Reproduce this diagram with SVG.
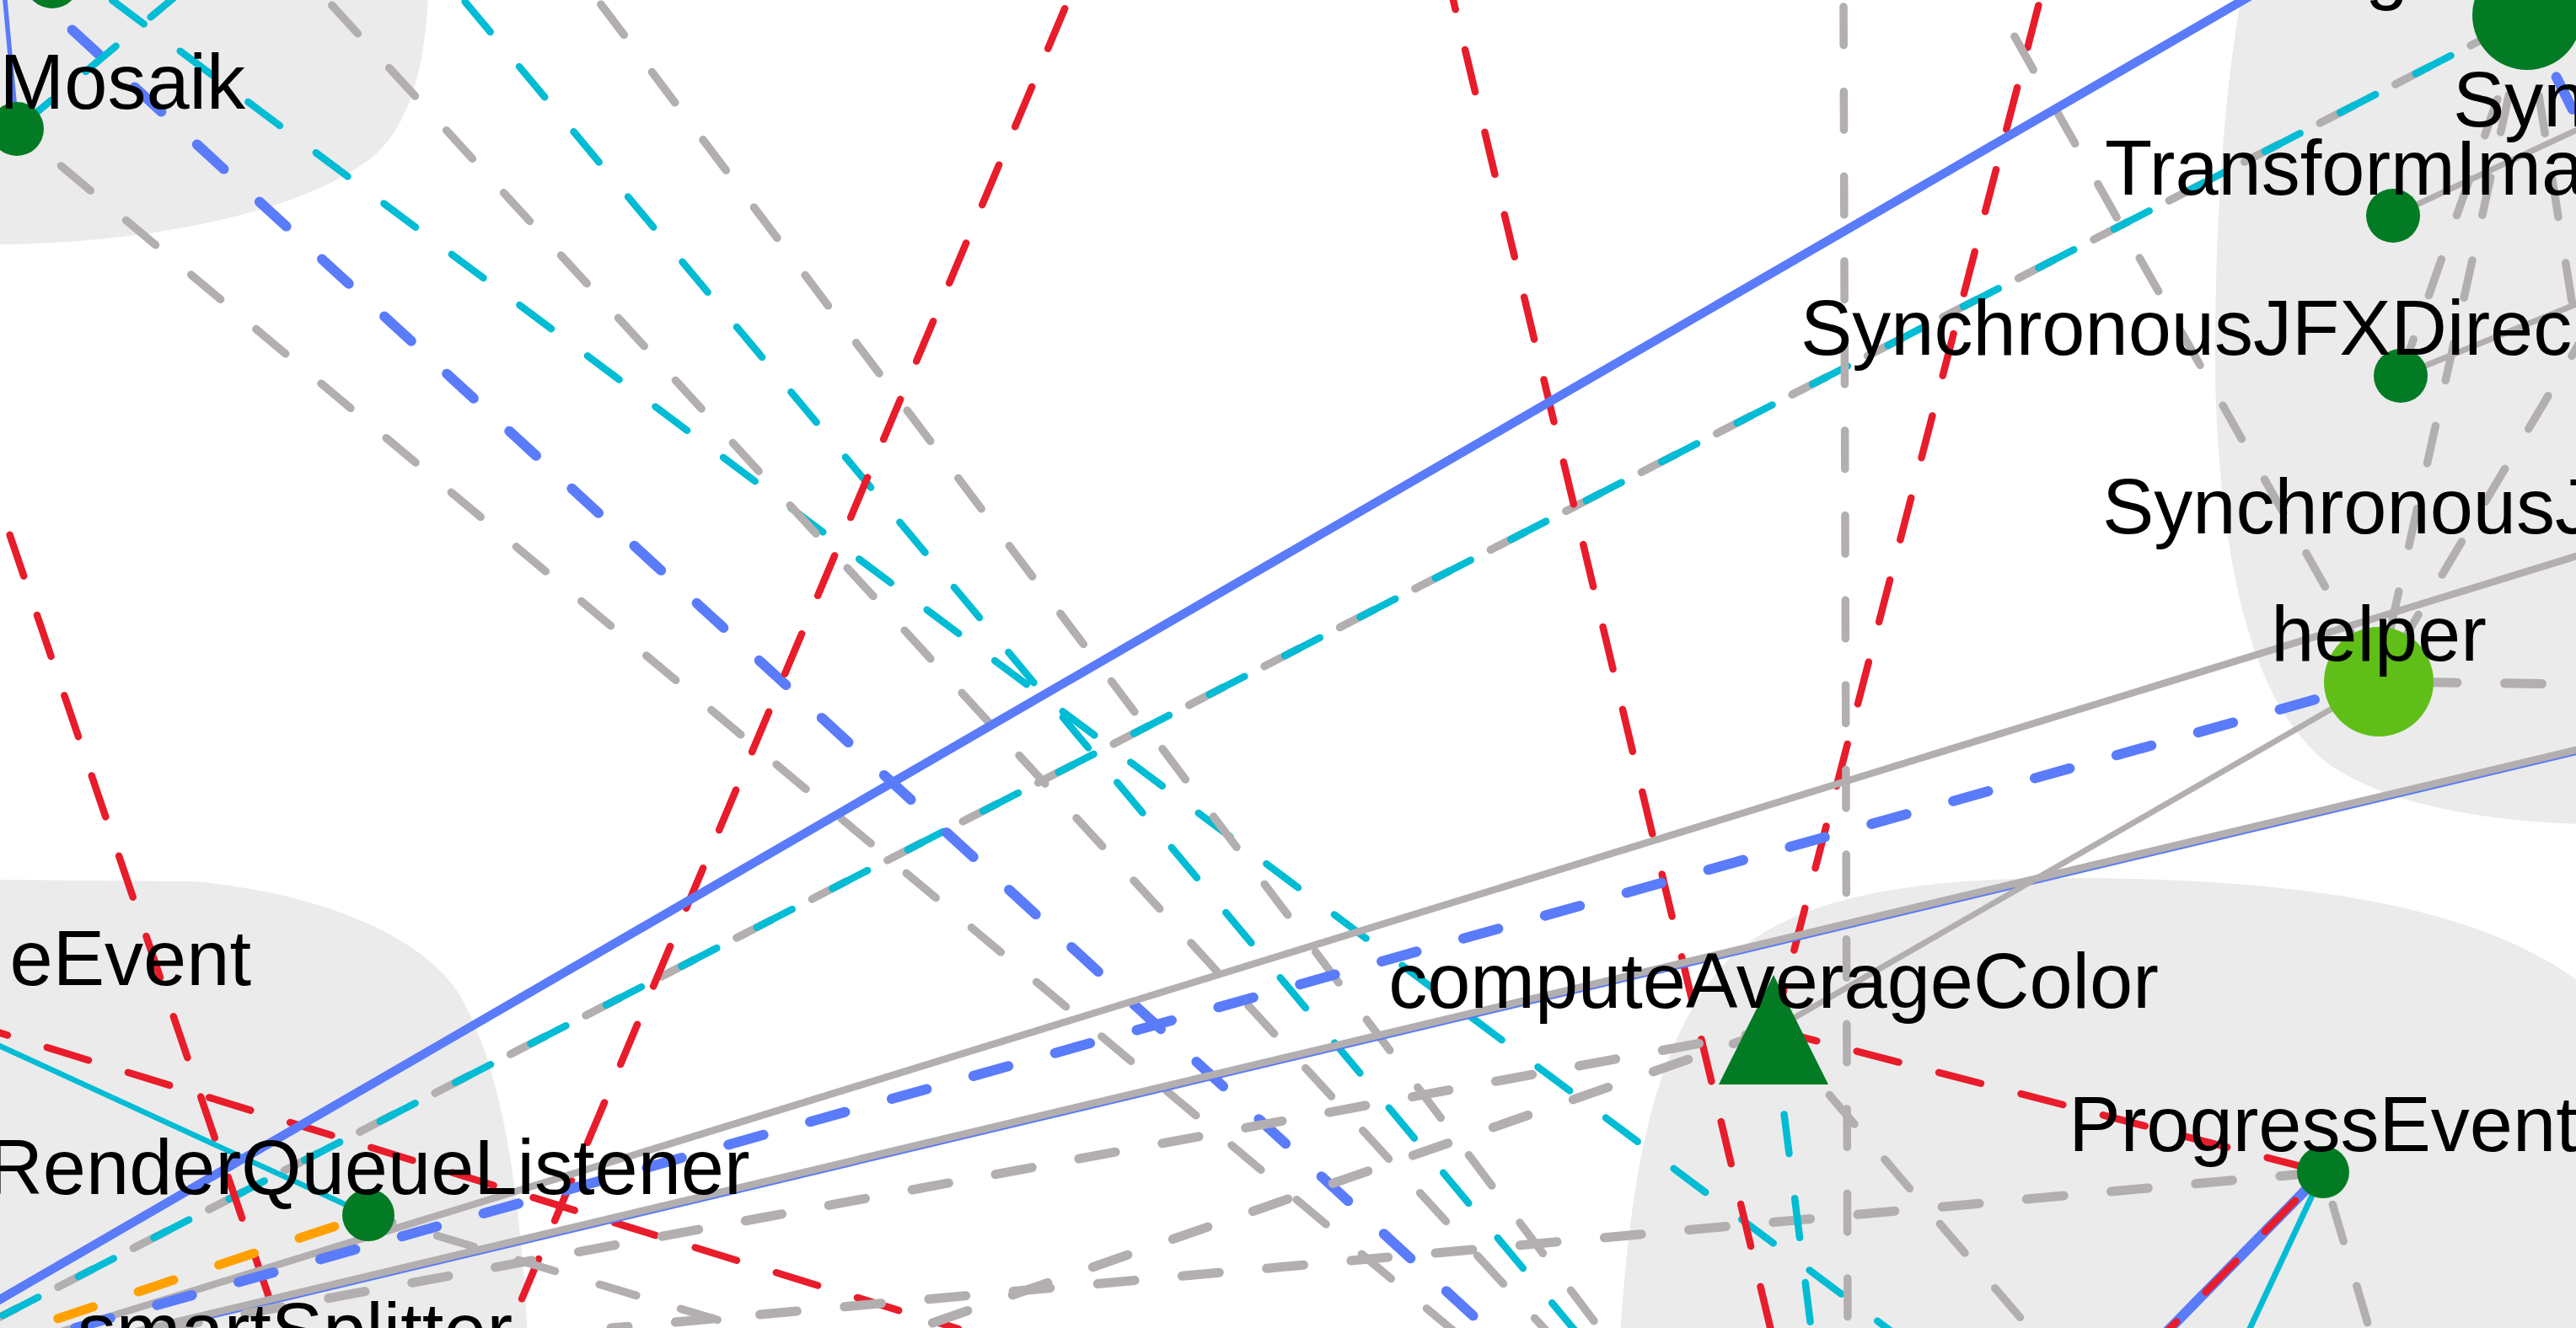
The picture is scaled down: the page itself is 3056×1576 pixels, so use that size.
<svg xmlns="http://www.w3.org/2000/svg" width="3056" height="1576" viewBox="0 0 3056 1576">
<style>
.c{fill:#ebebeb}
.e{fill:none;stroke-linecap:round}
.g{stroke:#b3aeaf}
.r{stroke:#e81c2a}
.cy{stroke:#00bcd4}
.b{stroke:#5a7bfa}
.o{stroke:#ffa000}
.dg{stroke-width:9.5;stroke-dasharray:45.5 55.1}
.dgh{stroke-width:11;stroke-dasharray:44 56.6}
.dr{stroke-width:8.5;stroke-dasharray:51.5 49.1}
.dc{stroke-width:8.5;stroke-dasharray:47 53.6}
.db{stroke-width:12;stroke-dasharray:43 57.6}
.do{stroke-width:11;stroke-dasharray:44 56.6}
.n{fill:#037b24}
.h{fill:#60be18}
text{font-family:"Liberation Sans",Arial,Helvetica,sans-serif;font-size:92px;fill:#000}
.m{text-anchor:middle}
.s{text-anchor:start}
.en{text-anchor:end}
</style>
<rect x="0" y="0" width="3056" height="1576" fill="#ffffff"/>
<g id="clusters">
<path class="c" d="M -10,-10 L 508,-10 C 505,80 485,160 430,195 C 360,245 200,288 0,290 L -10,290 Z"/>
<path class="c" d="M 2660,-10 L 3066,-10 L 3066,978 C 2950,975 2830,955 2760,905 C 2680,840 2635,700 2628,450 C 2627,250 2640,100 2660,-10 Z"/>
<path class="c" d="M -10,1044 L 230,1046 C 380,1060 500,1110 545,1180 C 590,1260 615,1380 626,1586 L -10,1586 Z"/>
<path class="c" d="M 1922,1586 C 1935,1380 1965,1240 2040,1150 C 2110,1070 2250,1042 2450,1042 C 2750,1042 2950,1080 3066,1170 L 3066,1586 Z"/>
</g>
<g id="edges">
<line class="e g dg" x1="-10" y1="1568" x2="2997" y2="20" stroke-dashoffset="11.8"/>
<line class="e cy dc" x1="-10" y1="1568" x2="2997" y2="20" stroke-dashoffset="85.4"/>
<line class="e cy dc" x1="122" y1="-8" x2="2245" y2="1581" stroke-dashoffset="86.6"/>
<line class="e cy dc" x1="545" y1="-6" x2="1871" y2="1582" stroke-dashoffset="90.3"/>
<line class="e b db" x1="38.3" y1="-8" x2="1770" y2="1582" stroke-dashoffset="36.4"/>
<line class="e g dg" x1="383.4" y1="-5" x2="1836" y2="1581" stroke-dashoffset="85.3"/>
<line class="e g dg" x1="705.2" y1="-5" x2="1901" y2="1581" stroke-dashoffset="87.9"/>
<line class="e g dg" x1="20" y1="153" x2="1725" y2="1580" stroke-dashoffset="32.2"/>
<line class="e r dr" x1="1270" y1="-6" x2="602" y2="1582" stroke-dashoffset="83"/>
<line class="e r dr" x1="1722.8" y1="-5" x2="2101.4" y2="1581" stroke-dashoffset="34.8"/>
<line class="e r dr" x1="2421.3" y1="-5" x2="2104" y2="1222" stroke-dashoffset="88.8"/>
<line class="e r dr" x1="2104" y1="1222" x2="2756" y2="1391" stroke-dashoffset="-1.4"/>
<line class="e r dr" x1="-103" y1="1194" x2="1137" y2="1577" stroke-dashoffset="35"/>
<line class="e r dr" x1="-1.9" y1="595" x2="333.5" y2="1582" stroke-dashoffset="58.5"/>
<line class="e cy" stroke-width="6.5" x1="-103" y1="1194" x2="437" y2="1442"/>
<line class="e o do" x1="437" y1="1442" x2="-10" y2="1591" stroke-dashoffset="58.2"/>
<line class="e g" stroke-width="8.5" x1="60" y1="1584" x2="3066" y2="657"/>
<line class="e b db" x1="2822" y1="809" x2="0" y2="1601" stroke-dashoffset="21.6"/>
<line class="e b" stroke-width="8.5" x1="150" y1="1584.7" x2="3066" y2="889.5"/>
<line class="e g" stroke-width="8.5" x1="150" y1="1582.7" x2="3066" y2="887.5"/>
<line class="e g dg" x1="437" y1="1442" x2="890" y2="1578" stroke-dashoffset="15.5"/>
<line class="e g dgh" x1="2104" y1="1222" x2="200" y2="1576" stroke-dashoffset="10.6"/>
<line class="e g dgh" x1="2104" y1="1222" x2="1089" y2="1576" stroke-dashoffset="94"/>
<line class="e g dgh" x1="2756" y1="1391" x2="725" y2="1576" stroke-dashoffset="93.3"/>
<line class="e g dg" x1="2187" y1="-5" x2="2192" y2="1581" stroke-dashoffset="87.5"/>
<line class="e cy dc" x1="2104" y1="1222" x2="2149" y2="1580" stroke-dashoffset="-0.6"/>
<line class="e g dg" x1="2104" y1="1222" x2="2409" y2="1578" stroke-dashoffset="-1.5"/>
<line class="e g" stroke-width="7" x1="2822" y1="809" x2="2104" y2="1222"/>
<line class="e b" stroke-width="12" x1="2756" y1="1391" x2="2570" y2="1581"/>
<line class="e r dr" x1="2756" y1="1391" x2="2570" y2="1581" stroke-dashoffset="53.4"/>
<line class="e cy" stroke-width="7" x1="2756" y1="1391" x2="2667" y2="1581"/>
<line class="e g dg" x1="2756" y1="1391" x2="2812" y2="1581" stroke-dashoffset="60.5"/>
<line class="e g dgh" x1="2822" y1="809" x2="3066" y2="812" stroke-dashoffset="51.7"/>
<line class="e g dg" x1="2822" y1="809" x2="2361" y2="-8" stroke-dashoffset="71.6"/>
<line class="e g dg" x1="2822" y1="809" x2="2997" y2="20" stroke-dashoffset="36.3"/>
<line class="e g dg" x1="2822" y1="809" x2="3066" y2="397" stroke-dashoffset="53.6"/>
<line class="e g dg" x1="2848" y1="446" x2="2997" y2="20" stroke-dashoffset="-0.5"/>
<line class="e g dg" x1="2997" y1="20" x2="3066" y2="451" stroke-dashoffset="6.1"/>
<line class="e b db" x1="2997" y1="20" x2="3080" y2="186" stroke-dashoffset="20.8"/>
<line class="e g" stroke-width="7" x1="2848" y1="446" x2="3066" y2="357"/>
<line class="e g" stroke-width="7" x1="2839" y1="256" x2="3066" y2="150"/>
<line class="e b" stroke-width="5.5" x1="20" y1="153" x2="5" y2="-10"/>
<line class="e cy dc" x1="20" y1="153" x2="215" y2="-10" stroke-dashoffset="95"/>
<line class="e b" stroke-width="10.5" x1="-5" y1="1545" x2="2670" y2="-5"/>
</g>
<g id="node-top-left"><circle class="n" cx="62" cy="-22" r="32"/></g>
<g id="node-mosaik"><circle class="n" cx="20" cy="153" r="32"/><text class="en" x="291" y="129">Mosaik</text></g>
<g id="node-event"><text class="en" x="298" y="1169">eEvent</text></g>
<g id="node-renderqueuelistener"><circle class="n" cx="437" cy="1442" r="31"/><text class="m" x="437" y="1417">RenderQueueListener</text></g>
<g id="node-smartsplitter"><text class="m" x="350" y="1611">smartSplitter</text></g>
<g id="node-computeaveragecolor"><polygon class="n" points="2104,1157 2169,1287 2039,1287"/><text class="m" x="2104" y="1196">computeAverageColor</text></g>
<g id="node-progressevent"><circle class="n" cx="2756" cy="1391" r="31"/><text class="m" x="2756" y="1366">ProgressEvent</text></g>
<g id="node-helper"><circle class="h" cx="2822" cy="809" r="65"/><text class="m" x="2822" y="784">helper</text></g>
<g id="node-transformimage"><circle class="n" cx="2839" cy="256" r="32"/><text class="s" x="2497" y="231">TransformIma</text></g>
<g id="node-synchronousjfxdirec"><circle class="n" cx="2848" cy="446" r="32"/><text class="s" x="2136" y="421">SynchronousJFXDirec</text></g>
<g id="node-synchronousj"><text class="s" x="2494" y="633">SynchronousJ</text></g>
<g id="node-big"><circle class="n" cx="2998" cy="18" r="65"/><text class="s" x="2806" y="-6">g</text></g>
<g id="node-syn"><text class="s" x="2910" y="150">Syn</text></g>
</svg>
